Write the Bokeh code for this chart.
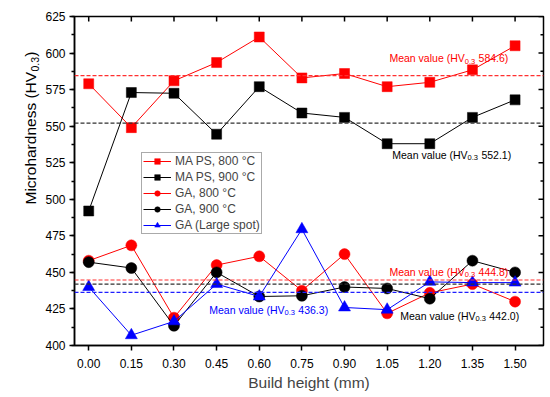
import math
from bokeh.plotting import figure
from bokeh.layouts import row
from bokeh.models import (FixedTicker, SingleIntervalTicker, Span, Label,
                          Legend, LegendItem, NumeralTickFormatter, Range1d)
from bokeh.embed import file_html
from bokeh.resources import INLINE

# ---------------- data ----------------
build_height = [0.00, 0.15, 0.30, 0.45, 0.60, 0.75, 0.90, 1.05, 1.20, 1.35, 1.50]
ma_ps_800 = [579, 549, 581, 593.5, 611, 583, 586, 577, 580, 588.5, 605]
ma_ps_900 = [492, 573, 572.5, 544.5, 577, 559, 556, 538, 538, 556, 568]
ga_800 = [458, 468.5, 419, 455, 461, 437.5, 462.5, 422, 436, 442, 430]
ga_900 = [457, 453, 413.5, 450, 433.5, 434, 440, 439, 432, 458, 450]
ga_large = [440, 407, 416.5, 442, 433.5, 479.5, 426, 424.5, 443.5, 443, 443]

series_names = ["MA PS, 800 °C", "MA PS, 900 °C", "GA, 800 °C", "GA, 900 °C", "GA (Large spot)"]
mean_values = [584.6, 552.1, 444.8, 442.0, 436.3]
y_ticks = [400, 425, 450, 475, 500, 525, 550, 575, 600, 625]

FONT = "Liberation Sans"
X0, X1 = -0.05, 1.60
Y0, Y1 = y_ticks[0], y_ticks[-1]

TITLE_W = 42
H = 397

p = figure(width=550 - TITLE_W, height=H, x_range=(X0, X1), y_range=(Y0, Y1),
           output_backend="svg", toolbar_location=None,
           min_border_left=72 - TITLE_W, min_border_right=7, min_border_top=16, min_border_bottom=52)
p.grid.visible = False
p.outline_line_color = "black"
p.outline_line_width = 1.5
p.background_fill_color = "white"
p.border_fill_color = "white"

x_ticker = FixedTicker(ticks=build_height)
y_ticker = SingleIntervalTicker(interval=25, num_minor_ticks=2)

xa = p.xaxis[0]
xa.ticker = x_ticker
xa.formatter = NumeralTickFormatter(format="0.00")
ya = p.yaxis[0]
ya.ticker = y_ticker
ya.formatter = NumeralTickFormatter(format="0")

for ax in (xa, ya):
    ax.axis_line_width = 1.5
    ax.major_tick_line_width = 1.5
    ax.minor_tick_line_width = 1.5
    ax.major_tick_out = 5
    ax.major_tick_in = 0
    ax.minor_tick_out = 3
    ax.minor_tick_in = 0
    ax.major_label_text_font = FONT
    ax.major_label_text_font_size = "12px"
    ax.major_label_text_color = "black"
xa.minor_tick_line_color = None
xa.major_label_standoff = 8
ya.major_label_standoff = 4
xa.axis_label = "Build height (mm)"
xa.axis_label_text_font = FONT
xa.axis_label_text_font_size = "15.5px"
xa.axis_label_text_font_style = "normal"
xa.axis_label_standoff = 3

# mirrored inward ticks on top and right edges (half of each dash is clipped by the frame)
n = len(build_height)
p.scatter(build_height, [Y1] * n, marker="dash", angle=math.pi / 2, size=10,
          line_color="black", line_width=1.5)
p.scatter([X1] * len(y_ticks), y_ticks, marker="dash", size=10, line_color="black", line_width=1.5)
minor_y = [t + 12.5 for t in y_ticks[:-1]]
p.scatter([X1] * len(minor_y), minor_y, marker="dash", size=6, line_color="black", line_width=1.5)

# mean value dashed lines
mean_colors = ["#ff3030", "#303030", "#ff3030", "#303030", "#1f1fff"]
for m, c in zip(mean_values, mean_colors):
    p.add_layout(Span(location=m, dimension="width", line_color=c, line_width=1.2, line_dash="4 2"))

series = [ma_ps_800, ma_ps_900, ga_800, ga_900, ga_large]
colors = ["#ff0000", "#000000", "#ff0000", "#000000", "#0000ff"]
markers = ["square", "square", "circle", "circle", "triangle"]
sizes = [10, 10, 11, 11, 12]
items = []
for name, vals, c, mk, sz in zip(series_names, series, colors, markers, sizes):
    ln = p.line(build_height, vals, line_color=c, line_width=1)
    sc = p.scatter(build_height, vals, marker=mk, size=sz, fill_color=c, line_color=c, line_width=0.5)
    items.append(LegendItem(label=name, renderers=[ln, sc]))

legend = Legend(items=items, location=(67, 111), padding=1, spacing=2, margin=0,
                label_height=14, glyph_height=14, glyph_width=28, label_standoff=4,
                label_text_font=FONT, label_text_font_size="12px",
                border_line_color="#555555", border_line_width=1,
                background_fill_color="white", background_fill_alpha=1)
p.add_layout(legend)

# mean value annotations: "Mean value (HV" + subscript "0.3" + " xxx.x)"
fs_main = 10.5
fs_sub = 7.5
w_main = 7.169 * fs_main
w_sub = 1.39 * fs_sub + 0.5 + 0.278 * fs_main
label_pos = [(1.058, 596.3), (1.068, 530.6), (1.058, 450.6), (1.096, 420.5), (0.424, 424.4)]
text_colors = ["#ff0000", "#000000", "#ff0000", "#000000", "#0000ff"]
for m, (lx, ly), c in zip(mean_values, label_pos, text_colors):
    common = dict(x=lx, y=ly, text_color=c, text_font=FONT, text_align="left", text_baseline="middle")
    p.add_layout(Label(text="Mean value (HV", text_font_size=f"{fs_main}px", **common))
    p.add_layout(Label(text="0.3", text_font_size=f"{fs_sub}px", x_offset=w_main, y_offset=-3, **common))
    p.add_layout(Label(text=f"{m:.1f})", text_font_size=f"{fs_main}px", x_offset=w_main + w_sub, **common))

# narrow strip on the left holding the rotated y-axis title (with subscript)
t = figure(width=TITLE_W, height=H, output_backend="svg", toolbar_location=None,
           x_axis_type=None, y_axis_type=None, min_border=0,
           x_range=Range1d(0, 1), y_range=Range1d(0, 1))
t.grid.visible = False
t.outline_line_color = None
t.background_fill_color = "white"
t.border_fill_color = "white"

fy_main = 15.5
fy_sub = 10.5
wy_main = 8.557 * fy_main
wy_sub = 1.39 * fy_sub + 0.5
start_from_bottom = H - 256          # page y where the title starts (bottom end)
main_center = start_from_bottom + wy_main / 2
base = dict(x_units="screen", y_units="screen", angle=math.pi / 2, text_font=FONT,
            text_baseline="middle", text_color="black")
t.add_layout(Label(text="Microhardness (HV", x=30, y=main_center, text_align="center",
                   text_font_size=f"{fy_main}px", **base))
t.add_layout(Label(text="0.3", x=34, y=start_from_bottom + wy_main + wy_sub / 2, text_align="center",
                   text_font_size=f"{fy_sub}px", **base))
t.add_layout(Label(text=")", x=30, y=start_from_bottom + wy_main + wy_sub + 2.6, text_align="center",
                   text_font_size=f"{fy_main}px", **base))

layout = row(t, p, spacing=0)
open("out.html", "w").write(file_html(layout, INLINE))
